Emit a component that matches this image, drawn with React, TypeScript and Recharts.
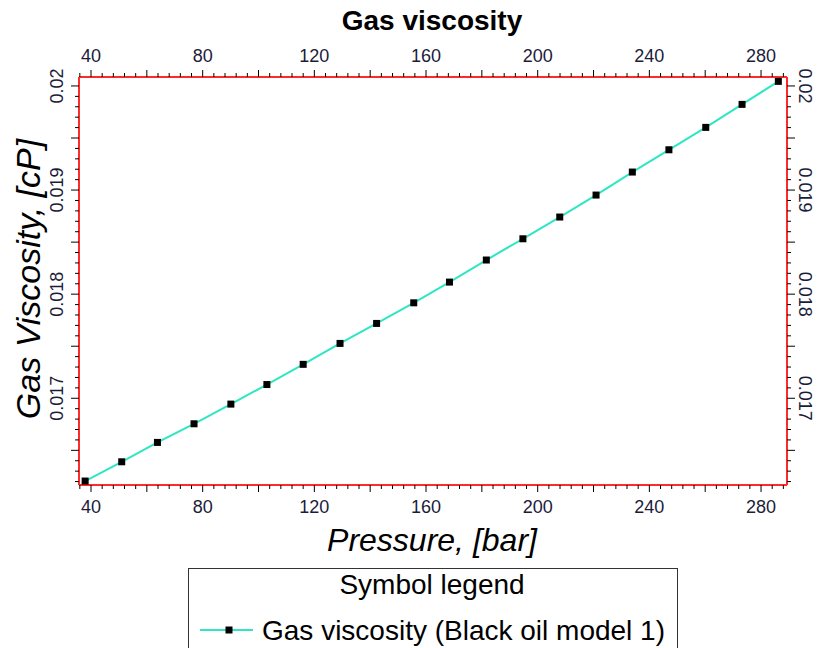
import React from 'react';
import { LineChart, Line, XAxis, YAxis } from 'recharts';

// Gas viscosity vs. pressure, black oil model 1
const pressure = [
  37.9, 51.0, 63.8, 76.9, 90.1, 103.0, 116.0, 129.2, 142.3, 155.6,
  168.4, 181.6, 194.7, 207.9, 220.9, 233.9, 247.0, 260.2, 273.2, 286.2,
];
const viscosity = [
  0.016205, 0.01639, 0.016576, 0.016755, 0.016944, 0.017132, 0.017326,
  0.017527, 0.017719, 0.017917, 0.018116, 0.018328, 0.018532, 0.018741,
  0.018952, 0.019173, 0.019387, 0.019602, 0.019823, 0.020044,
];
const pressureLabels = [40, 80, 120, 160, 200, 240, 280];
const viscosityLabels = [0.017, 0.018, 0.019, 0.02];

const data = pressure.map((p, i) => ({ pressure: p, visc: viscosity[i] }));

const X_DOMAIN: [number, number] = [35.7, 289.3];
const Y_DOMAIN: [number, number] = [0.016167, 0.020086];

// minor ticks every 4 bar, every 0.0001 cP
const xTicks: number[] = [];
for (let v = 36; v <= 288; v += 4) xTicks.push(v);
const yTicks: number[] = [];
for (let k = 162; k <= 200; k++) yTicks.push(k / 10000);

const FONT = '"Liberation Sans", Arial, sans-serif';
const LABEL_COLOR = '#1c1c3a';
const BORDER = '#ff2a2a';
const LINE_COLOR = '#2fe6c4';

const isLabelX = (v: number) => pressureLabels.includes(Math.round(v));
const isLongX = (v: number) => Math.round(v) % 20 === 0;
const yKey = (v: number) => Math.round(v * 10000);
const isLabelY = (v: number) => viscosityLabels.some((l) => yKey(l) === yKey(v));
const isLongY = (v: number) => yKey(v) % 5 === 0;
const fmtY = (v: number) => String(Number(v.toFixed(3)));

const BottomTick = ({ x, y, payload }: any) => {
  const v = payload.value;
  const len = isLongX(v) ? 7 : 4;
  return (
    <g>
      <line x1={x} x2={x} y1={y} y2={y + len} stroke="#000" />
      {isLabelX(v) && (
        <text x={x} y={y + 28} textAnchor="middle" fontSize={18} fontFamily={FONT} fill={LABEL_COLOR}>
          {Math.round(v)}
        </text>
      )}
    </g>
  );
};

const TopTick = ({ x, y, payload }: any) => {
  const v = payload.value;
  const len = isLongX(v) ? 7 : 4;
  return (
    <g>
      <line x1={x} x2={x} y1={y} y2={y - len} stroke="#000" />
      {isLabelX(v) && (
        <text x={x} y={y - 15} textAnchor="middle" fontSize={18} fontFamily={FONT} fill={LABEL_COLOR}>
          {Math.round(v)}
        </text>
      )}
    </g>
  );
};

const LeftTick = ({ x, y, payload }: any) => {
  const v = payload.value;
  const len = isLongY(v) ? 8 : 4;
  return (
    <g>
      <line x1={x} x2={x - len} y1={y} y2={y} stroke="#000" />
      {isLabelY(v) && (
        <text
          transform={`translate(${x - 16},${y}) rotate(-90)`}
          textAnchor="middle"
          fontSize={18}
          fontFamily={FONT}
          fill={LABEL_COLOR}
        >
          {fmtY(v)}
        </text>
      )}
    </g>
  );
};

const RightTick = ({ x, y, payload }: any) => {
  const v = payload.value;
  const len = isLongY(v) ? 8 : 4;
  return (
    <g>
      <line x1={x} x2={x + len} y1={y} y2={y} stroke="#000" />
      {isLabelY(v) && (
        <text
          transform={`translate(${x + 12},${y}) rotate(90)`}
          textAnchor="middle"
          fontSize={18}
          fontFamily={FONT}
          fill={LABEL_COLOR}
        >
          {fmtY(v)}
        </text>
      )}
    </g>
  );
};

const SquareDot = ({ cx, cy }: any) => (
  <rect x={cx - 3.5} y={cy - 3.5} width={7} height={7} fill="#000" />
);

export default function App() {
  return (
    <div
      style={{
        position: 'absolute',
        left: 0,
        top: 0,
        width: 817,
        height: 648,
        overflow: 'hidden',
        background: '#fff',
      }}
    >
      <LineChart width={817} height={648} data={data} margin={{ top: 0, right: 0, bottom: 0, left: 0 }}>
        <XAxis
          xAxisId="bottom"
          orientation="bottom"
          type="number"
          dataKey="pressure"
          domain={X_DOMAIN}
          allowDataOverflow
          ticks={xTicks}
          interval={0}
          height={163}
          tickSize={0}
          tickMargin={0}
          tickLine={false}
          axisLine={{ stroke: BORDER, strokeWidth: 2 }}
          tick={(p: any) => <BottomTick {...p} />}
        />
        <XAxis
          xAxisId="top"
          orientation="top"
          type="number"
          dataKey="pressure"
          domain={X_DOMAIN}
          allowDataOverflow
          ticks={xTicks}
          interval={0}
          height={77}
          tickSize={0}
          tickMargin={0}
          tickLine={false}
          axisLine={{ stroke: BORDER, strokeWidth: 2 }}
          tick={(p: any) => <TopTick {...p} />}
        />
        <YAxis
          yAxisId="left"
          orientation="left"
          type="number"
          domain={Y_DOMAIN}
          allowDataOverflow
          ticks={yTicks}
          interval={0}
          width={79}
          tickSize={0}
          tickMargin={0}
          tickLine={false}
          axisLine={{ stroke: BORDER, strokeWidth: 2 }}
          tick={(p: any) => <LeftTick {...p} />}
        />
        <YAxis
          yAxisId="right"
          orientation="right"
          type="number"
          domain={Y_DOMAIN}
          allowDataOverflow
          ticks={yTicks}
          interval={0}
          width={30}
          tickSize={0}
          tickMargin={0}
          tickLine={false}
          axisLine={{ stroke: BORDER, strokeWidth: 2 }}
          tick={(p: any) => <RightTick {...p} />}
        />
        <Line
          xAxisId="bottom"
          yAxisId="left"
          type="linear"
          dataKey="visc"
          stroke={LINE_COLOR}
          strokeWidth={2}
          dot={<SquareDot />}
          activeDot={false}
          isAnimationActive={false}
        />
        <text x={432} y={30} textAnchor="middle" fontSize={28} fontWeight="bold" fontFamily={FONT} fill="#000">
          Gas viscosity
        </text>
        <text x={432} y={551} textAnchor="middle" fontSize={32} fontStyle="italic" fontFamily={FONT} fill="#000">
          Pressure, [bar]
        </text>
        <text
          transform="translate(40,279) rotate(-90)"
          textAnchor="middle"
          fontSize={34}
          fontStyle="italic"
          fontFamily={FONT}
          fill="#000"
        >
          Gas Viscosity, [cP]
        </text>
      </LineChart>
      <svg width={817} height={648} style={{ position: 'absolute', left: 0, top: 0, pointerEvents: 'none' }}>
        <rect x={188.5} y={568.5} width={489} height={100} fill="#fff" stroke="#333" />
        <text x={432} y={594} textAnchor="middle" fontSize={28} fontFamily={FONT} fill="#000">
          Symbol legend
        </text>
        <line x1={200} x2={253} y1={630} y2={630} stroke={LINE_COLOR} strokeWidth={2} />
        <rect x={225.5} y={626.5} width={7} height={7} fill="#000" />
        <text x={262} y={640} fontSize={28} fontFamily={FONT} fill="#000">
          Gas viscosity (Black oil model 1)
        </text>
      </svg>
    </div>
  );
}
